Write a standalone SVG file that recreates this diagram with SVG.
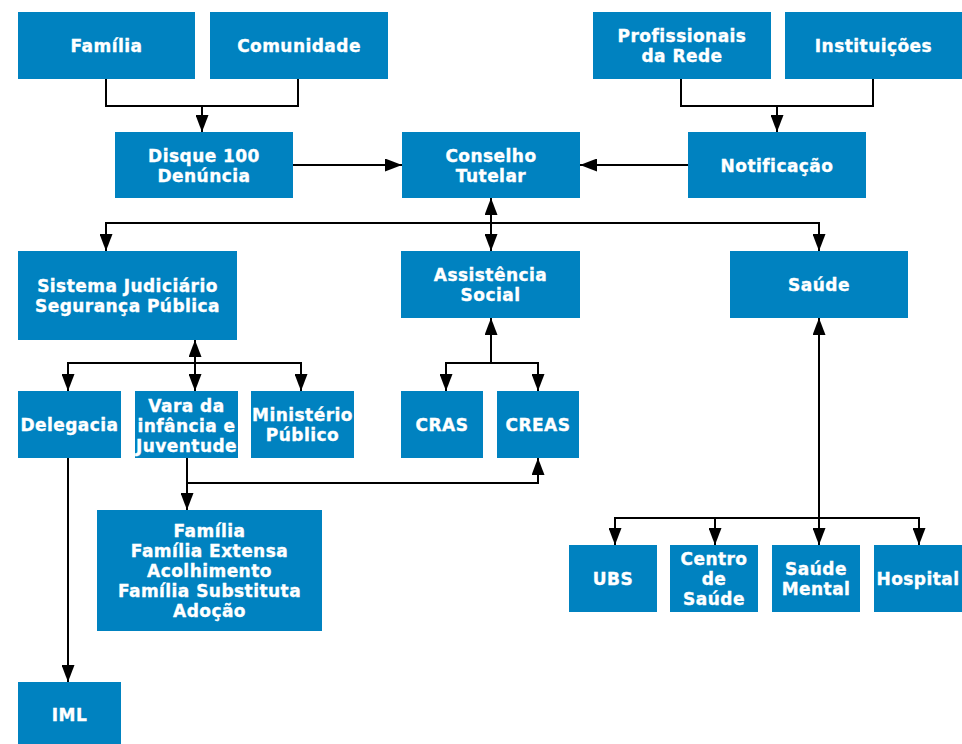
<svg xmlns="http://www.w3.org/2000/svg" width="962" height="744" viewBox="0 0 962 744">
  <style>
    .box { fill: #0082C0; }
    .lbl { fill: #ffffff; stroke: #ffffff; stroke-width: 0.35px; font-family: "DejaVu Sans", Verdana, sans-serif; font-weight: bold; font-size: 17px; letter-spacing: 0.45px; text-anchor: middle; }
    .wire { fill: none; stroke: #000000; stroke-width: 2; }
    .end { marker-end: url(#arrow); }
    .both { marker-start: url(#arrow); marker-end: url(#arrow); }
    .start { marker-start: url(#arrow); }
  </style>
  <defs>
    <!-- filled triangular arrowhead -->
    <marker id="arrow" markerUnits="userSpaceOnUse" markerWidth="17" markerHeight="13" refX="17" refY="6.5" orient="auto-start-reverse" viewBox="0 0 17 13">
      <path d="M0,0 L17,6.5 L0,13 z" fill="#000000"/>
    </marker>
  </defs>
  <rect width="962" height="744" fill="#ffffff"/>

  <g id="connectors">
    <path class="wire" d="M106,79 V106 H298 V79"/>
    <path class="wire end" d="M202,106 V132"/>
    <path class="wire" d="M681,79 V106 H873 V79"/>
    <path class="wire end" d="M777,106 V132"/>
    <path class="wire end" d="M293,165 H402"/>
    <path class="wire end" d="M688,165 H580"/>
    <path class="wire both" d="M491,198 V251"/>
    <path class="wire both" d="M106,251 V223 H819 V251"/>
    <path class="wire both" d="M195,340 V391"/>
    <path class="wire both" d="M68,391 V363 H301 V391"/>
    <path class="wire start" d="M491,318 V363"/>
    <path class="wire both" d="M446,391 V363 H538 V391"/>
    <path class="wire end" d="M68,458 V682"/>
    <path class="wire end" d="M187,458 V510"/>
    <path class="wire end" d="M187,483 H538 V458"/>
    <path class="wire both" d="M819,318 V545"/>
    <path class="wire both" d="M615,545 V518 H919 V545"/>
    <path class="wire end" d="M715,518 V545"/>
  </g>

  <g id="familia">
    <rect class="box" x="18" y="12" width="177" height="67"/>
    <text class="lbl" x="106.5" y="52">Família</text>
  </g>
  <g id="comunidade">
    <rect class="box" x="210" y="12" width="178" height="67"/>
    <text class="lbl" x="299" y="52">Comunidade</text>
  </g>
  <g id="profissionais">
    <rect class="box" x="593" y="12" width="178" height="67"/>
    <text class="lbl" x="682" y="42">Profissionais</text>
    <text class="lbl" x="682" y="62">da Rede</text>
  </g>
  <g id="instituicoes">
    <rect class="box" x="785" y="12" width="177" height="67"/>
    <text class="lbl" x="873.5" y="52">Instituições</text>
  </g>
  <g id="disque">
    <rect class="box" x="115" y="132" width="178" height="66"/>
    <text class="lbl" x="204" y="161.5">Disque 100</text>
    <text class="lbl" x="204" y="181.5">Denúncia</text>
  </g>
  <g id="conselho">
    <rect class="box" x="402" y="132" width="178" height="66"/>
    <text class="lbl" x="491" y="161.5">Conselho</text>
    <text class="lbl" x="491" y="181.5">Tutelar</text>
  </g>
  <g id="notificacao">
    <rect class="box" x="688" y="132" width="178" height="66"/>
    <text class="lbl" x="777" y="171.5">Notificação</text>
  </g>
  <g id="sistema">
    <rect class="box" x="18" y="251" width="219" height="89"/>
    <text class="lbl" x="127.5" y="292">Sistema Judiciário</text>
    <text class="lbl" x="127.5" y="312">Segurança Pública</text>
  </g>
  <g id="assistencia">
    <rect class="box" x="401" y="251" width="179" height="67"/>
    <text class="lbl" x="490.5" y="281">Assistência</text>
    <text class="lbl" x="490.5" y="301">Social</text>
  </g>
  <g id="saude">
    <rect class="box" x="730" y="251" width="178" height="67"/>
    <text class="lbl" x="819" y="291">Saúde</text>
  </g>
  <g id="delegacia">
    <rect class="box" x="18" y="391" width="103" height="67"/>
    <text class="lbl" x="69.5" y="431">Delegacia</text>
  </g>
  <g id="vara">
    <rect class="box" x="135" y="391" width="103" height="67"/>
    <text class="lbl" x="186.5" y="411.5">Vara da</text>
    <text class="lbl" x="186.5" y="431.5">infância e</text>
    <text class="lbl" x="186.5" y="451.5">Juventude</text>
  </g>
  <g id="ministerio">
    <rect class="box" x="251" y="391" width="103" height="67"/>
    <text class="lbl" x="302.5" y="421">Ministério</text>
    <text class="lbl" x="302.5" y="441">Público</text>
  </g>
  <g id="cras">
    <rect class="box" x="401" y="391" width="82" height="67"/>
    <text class="lbl" x="442" y="431">CRAS</text>
  </g>
  <g id="creas">
    <rect class="box" x="497" y="391" width="82" height="67"/>
    <text class="lbl" x="538" y="431">CREAS</text>
  </g>
  <g id="acolhimento">
    <rect class="box" x="97" y="510" width="225" height="121"/>
    <text class="lbl" x="209.5" y="537">Família</text>
    <text class="lbl" x="209.5" y="557">Família Extensa</text>
    <text class="lbl" x="209.5" y="577">Acolhimento</text>
    <text class="lbl" x="209.5" y="597">Família Substituta</text>
    <text class="lbl" x="209.5" y="617">Adoção</text>
  </g>
  <g id="iml">
    <rect class="box" x="18" y="682" width="103" height="63"/>
    <text class="lbl" x="69.5" y="721">IML</text>
  </g>
  <g id="ubs">
    <rect class="box" x="569" y="545" width="88" height="67"/>
    <text class="lbl" x="613" y="585">UBS</text>
  </g>
  <g id="centro">
    <rect class="box" x="670" y="545" width="88" height="67"/>
    <text class="lbl" x="714" y="565">Centro</text>
    <text class="lbl" x="714" y="585">de</text>
    <text class="lbl" x="714" y="605">Saúde</text>
  </g>
  <g id="saude-mental">
    <rect class="box" x="772" y="545" width="88" height="67"/>
    <text class="lbl" x="816" y="575">Saúde</text>
    <text class="lbl" x="816" y="595">Mental</text>
  </g>
  <g id="hospital">
    <rect class="box" x="874" y="545" width="88" height="67"/>
    <text class="lbl" x="918" y="585">Hospital</text>
  </g>
</svg>
